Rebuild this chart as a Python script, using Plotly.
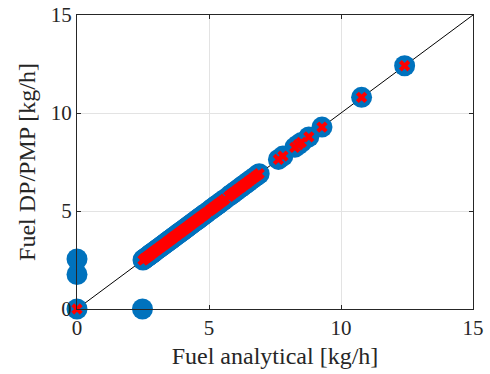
import plotly.graph_objects as go

# Fuel analytical [kg/h] (x) and Fuel DP / PMP [kg/h] (y)
x_dp = [0.0, 0.0, 0.0, 2.48,
        2.50, 2.55, 2.58, 2.62, 2.66, 2.70, 2.74, 2.78, 2.82, 2.87, 2.91, 2.95,
        3.00, 3.04, 3.08, 3.13, 3.17, 3.21, 3.26, 3.30, 3.35, 3.39, 3.44, 3.48,
        3.53, 3.57, 3.62, 3.66, 3.71, 3.76, 3.80, 3.85, 3.90, 3.94, 3.99, 4.04,
        4.09, 4.13, 4.18, 4.23, 4.28, 4.33, 4.38, 4.43, 4.48, 4.53, 4.58, 4.63,
        4.68, 4.74, 4.79, 4.84, 4.90, 5.02, 5.08, 5.14, 5.20, 5.26, 5.32, 5.38,
        5.45, 5.52, 5.60, 5.75, 5.82, 5.88, 5.95, 6.02, 6.10, 6.18, 6.25, 6.33,
        6.40, 6.48, 6.56, 6.65, 6.74, 6.82, 6.90, 7.63, 7.80, 8.25, 8.38, 8.50,
        8.78, 9.28, 10.78, 12.41]
y_dp = [0.0, 1.76, 2.55, 0.0,
        2.50, 2.55, 2.58, 2.62, 2.66, 2.70, 2.74, 2.78, 2.82, 2.87, 2.91, 2.95,
        3.00, 3.04, 3.08, 3.13, 3.17, 3.21, 3.26, 3.30, 3.35, 3.39, 3.44, 3.48,
        3.53, 3.57, 3.62, 3.66, 3.71, 3.76, 3.80, 3.85, 3.90, 3.94, 3.99, 4.04,
        4.09, 4.13, 4.18, 4.23, 4.28, 4.33, 4.38, 4.43, 4.48, 4.53, 4.58, 4.63,
        4.68, 4.74, 4.79, 4.84, 4.90, 5.02, 5.08, 5.14, 5.20, 5.26, 5.32, 5.38,
        5.45, 5.52, 5.60, 5.75, 5.82, 5.88, 5.95, 6.02, 6.10, 6.18, 6.25, 6.33,
        6.40, 6.48, 6.56, 6.65, 6.74, 6.82, 6.90, 7.63, 7.80, 8.25, 8.38, 8.50,
        8.78, 9.28, 10.80, 12.41]
x_pmp = [0.0] + x_dp[4:]
y_pmp = [0.0] + y_dp[4:]

diag = [0, 15]
ticks = [0, 5, 10, 15]
tick_labels = ["0", "5", "10", "15"]

tick_font = "Liberation Serif"
title_font = "Liberation Serif"

fig = go.Figure()
fig.add_trace(go.Scatter(x=diag, y=diag, mode="lines",
                         line=dict(color="black", width=1), cliponaxis=False,
                         showlegend=False))
fig.add_trace(go.Scatter(x=x_dp, y=y_dp, mode="markers",
                         marker=dict(symbol="circle", size=21, color="#0072BD",
                                     line=dict(width=0)),
                         cliponaxis=False, showlegend=False))
fig.add_trace(go.Scatter(x=x_pmp, y=y_pmp, mode="markers",
                         marker=dict(symbol="x", size=10, color="#FF0000",
                                     line=dict(width=0)),
                         cliponaxis=False, showlegend=False))

axis_common = dict(range=[0, 15], tickvals=ticks, ticktext=tick_labels,
                   showgrid=True, gridcolor="#e3e3e3", gridwidth=1,
                   zeroline=False, showline=True, linecolor="#262626",
                   linewidth=1, mirror="ticks", ticks="inside", ticklen=4,
                   tickcolor="#262626", automargin=False,
                   tickfont=dict(family=tick_font, size=21, color="#262626"))

fig.update_layout(
    width=490, height=374,
    margin=dict(l=77, r=17, t=15, b=65),
    paper_bgcolor="white", plot_bgcolor="white",
    xaxis=dict(**axis_common,
               title=dict(text="Fuel analytical [kg/h]", standoff=7,
                          font=dict(family=title_font, size=24, color="#262626"))),
    yaxis=dict(**axis_common,
               title=dict(text="Fuel DP/PMP [kg/h]", standoff=8,
                          font=dict(family=title_font, size=24, color="#262626"))),
)

fig.write_html("out.html", config={"displayModeBar": False},
               post_script="document.body.style.margin='0';")
